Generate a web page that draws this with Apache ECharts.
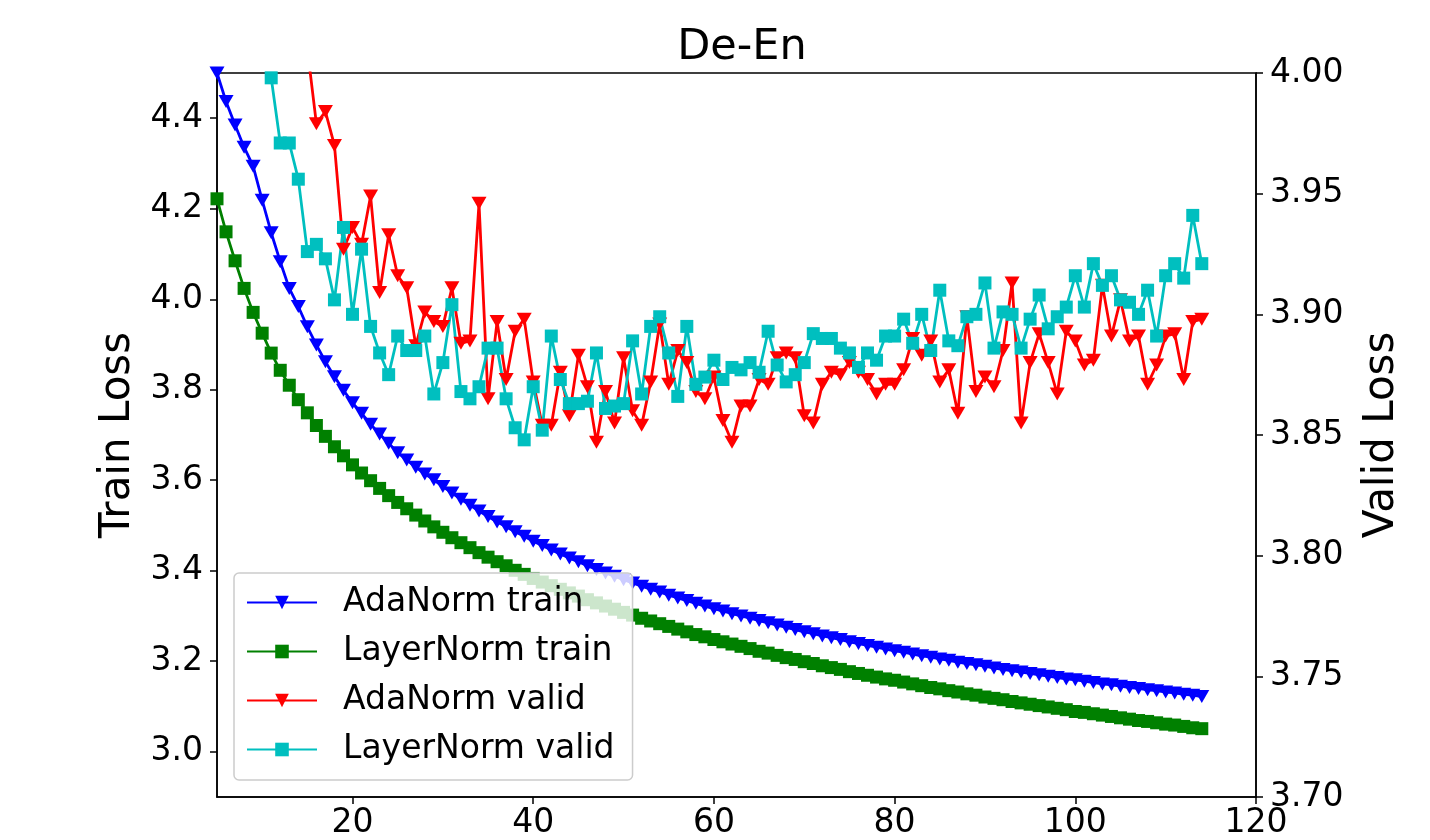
<!DOCTYPE html>
<html>
<head>
<meta charset="utf-8">
<script src="https://cdn.jsdelivr.net/npm/echarts@6/dist/echarts.min.js"></script>
<style>
  html, body { margin: 0; padding: 0; background: #fff; }
  #chart { width: 1430px; height: 840px; }
</style>
</head>
<body>
<div id="chart"></div>
<script>
// epochs where each curve starts (one point per epoch)
const trainStart = 5;
const adaValidStart = 15;
const layerValidStart = 11;

// train loss (left axis)
const adaTrain = [
  4.500, 4.437, 4.385, 4.336, 4.294, 4.219, 4.147, 4.083, 4.024, 3.984,
  3.939, 3.899, 3.862, 3.829, 3.799, 3.771, 3.748, 3.724, 3.702, 3.682,
  3.661, 3.645, 3.629, 3.614, 3.601, 3.586, 3.572, 3.558, 3.545, 3.532,
  3.520, 3.508, 3.497, 3.486, 3.476, 3.465, 3.456, 3.446, 3.437, 3.428,
  3.420, 3.411, 3.403, 3.395, 3.388, 3.380, 3.373, 3.366, 3.359, 3.353,
  3.346, 3.340, 3.334, 3.328, 3.322, 3.316, 3.311, 3.305, 3.300, 3.295,
  3.290, 3.285, 3.280, 3.275, 3.270, 3.265, 3.261, 3.256, 3.252, 3.248,
  3.243, 3.239, 3.235, 3.231, 3.227, 3.223, 3.220, 3.216, 3.212, 3.209,
  3.205, 3.202, 3.198, 3.195, 3.192, 3.189, 3.185, 3.182, 3.179, 3.176,
  3.173, 3.170, 3.167, 3.164, 3.161, 3.159, 3.156, 3.153, 3.150, 3.148,
  3.145, 3.142, 3.140, 3.137, 3.135, 3.132, 3.130, 3.127, 3.125, 3.122
];
const layerTrain = [
  4.222, 4.149, 4.085, 4.024, 3.971, 3.925, 3.881, 3.843, 3.810, 3.778,
  3.749, 3.721, 3.697, 3.674, 3.654, 3.634, 3.616, 3.599, 3.582, 3.566,
  3.551, 3.537, 3.523, 3.510, 3.497, 3.485, 3.473, 3.462, 3.451, 3.440,
  3.430, 3.420, 3.411, 3.401, 3.392, 3.383, 3.375, 3.367, 3.359, 3.351,
  3.344, 3.336, 3.329, 3.322, 3.315, 3.308, 3.302, 3.295, 3.289, 3.283,
  3.277, 3.271, 3.265, 3.259, 3.254, 3.248, 3.243, 3.238, 3.233, 3.228,
  3.222, 3.218, 3.213, 3.208, 3.204, 3.199, 3.195, 3.190, 3.186, 3.182,
  3.177, 3.173, 3.169, 3.165, 3.161, 3.158, 3.154, 3.150, 3.146, 3.142,
  3.139, 3.135, 3.132, 3.128, 3.125, 3.121, 3.118, 3.115, 3.111, 3.108,
  3.105, 3.102, 3.099, 3.096, 3.093, 3.089, 3.087, 3.084, 3.081, 3.078,
  3.075, 3.072, 3.069, 3.067, 3.064, 3.061, 3.059, 3.056, 3.053, 3.051
];

// valid loss (right axis)
const adaValid = [
  4.010, 3.979, 3.984, 3.970, 3.927, 3.936, 3.929, 3.949, 3.909, 3.933,
  3.916, 3.911, 3.887, 3.901, 3.897, 3.895, 3.911, 3.888, 3.889, 3.946,
  3.865, 3.897, 3.873, 3.893, 3.898, 3.872, 3.854, 3.854, 3.876, 3.858,
  3.883, 3.870, 3.847, 3.868, 3.855, 3.882, 3.860, 3.854, 3.872, 3.896,
  3.871, 3.885, 3.880, 3.868, 3.865, 3.874, 3.856, 3.847, 3.862, 3.862,
  3.873, 3.871, 3.882, 3.884, 3.882, 3.858, 3.855, 3.871, 3.876, 3.875,
  3.880, 3.876, 3.873, 3.867, 3.871, 3.871, 3.877, 3.890, 3.883, 3.889,
  3.872, 3.877, 3.859, 3.899, 3.868, 3.874, 3.870, 3.885, 3.913, 3.855,
  3.880, 3.892, 3.880, 3.867, 3.893, 3.889, 3.879, 3.881, 3.912, 3.891,
  3.906, 3.889, 3.891, 3.871, 3.879, 3.891, 3.892, 3.873, 3.897, 3.898
];
const layerValid = [
  3.998, 3.971, 3.971, 3.956, 3.926, 3.929, 3.923, 3.906, 3.936, 3.900,
  3.927, 3.895, 3.884, 3.875, 3.891, 3.885, 3.885, 3.891, 3.867, 3.880,
  3.904, 3.868, 3.865, 3.870, 3.886, 3.886, 3.865, 3.853, 3.848, 3.870,
  3.852, 3.891, 3.873, 3.863, 3.863, 3.864, 3.884, 3.861, 3.862, 3.863,
  3.889, 3.867, 3.895, 3.899, 3.884, 3.866, 3.895, 3.871, 3.874, 3.881,
  3.873, 3.878, 3.877, 3.880, 3.876, 3.893, 3.879, 3.872, 3.875, 3.880,
  3.892, 3.890, 3.890, 3.886, 3.884, 3.878, 3.884, 3.881, 3.891, 3.891,
  3.898, 3.888, 3.900, 3.885, 3.910, 3.889, 3.887, 3.899, 3.900, 3.913,
  3.886, 3.901, 3.900, 3.886, 3.898, 3.908, 3.894, 3.899, 3.903, 3.916,
  3.903, 3.921, 3.912, 3.916, 3.906, 3.905, 3.900, 3.910, 3.891, 3.916,
  3.921, 3.915, 3.941, 3.921
];

// tick labels
const xTicks = [20, 40, 60, 80, 100, 120];
const trainTicks = [3.0, 3.2, 3.4, 3.6, 3.8, 4.0, 4.2, 4.4];
const validTicks = [3.70, 3.75, 3.80, 3.85, 3.90, 3.95, 4.00];

const seriesNames = ["AdaNorm train", "LayerNorm train", "AdaNorm valid", "LayerNorm valid"];

const toPairs = (start, arr) => arr.map((v, i) => [start + i, v]);

const FONT = "DejaVu Sans";
const axisTxt = { color: "#000", fontFamily: FONT, fontSize: 33 };

function lineSeries(name, data, color, yIdx, tri) {
  return {
    name: name,
    type: "line",
    yAxisIndex: yIdx,
    data: data,
    clip: true,
    showAllSymbol: true,
    symbol: tri ? "triangle" : "rect",
    symbolRotate: tri ? 180 : 0,
    symbolSize: tri ? [15, 13] : [13, 13],
    itemStyle: { color: color },
    lineStyle: { color: color, width: 2.8 },
    emphasis: { disabled: true }
  };
}

const chart = echarts.init(document.getElementById("chart"), null, { renderer: "canvas" });
chart.setOption({
  animation: false,
  backgroundColor: "#fff",
  title: {
    text: "De-En",
    left: 737,
    textAlign: "center",
    top: 21,
    textStyle: { color: "#000", fontFamily: FONT, fontSize: 43, fontWeight: "normal" }
  },
  grid: {
    left: 217, right: 174, top: 73, bottom: 43,
    show: true, borderColor: "#000", borderWidth: 1.5, backgroundColor: "transparent"
  },
  legend: {
    data: seriesNames,
    orient: "vertical",
    left: 234,
    top: 573,
    itemWidth: 70,
    itemHeight: 17,
    itemGap: 12,
    padding: [11, 18, 12, 12],
    backgroundColor: "rgba(255,255,255,0.8)",
    borderColor: "#cccccc",
    borderWidth: 1.5,
    borderRadius: 5,
    textStyle: { color: "#000", fontFamily: FONT, fontSize: 33, lineHeight: 37, padding: [0, 0, 0, 21] }
  },
  xAxis: {
    type: "value",
    min: 5,
    max: 120,
    splitLine: { show: false },
    axisLine: { show: true, onZero: false, lineStyle: { color: "#000", width: 1.5 } },
    axisTick: { show: true, length: 7, lineStyle: { color: "#000", width: 1.5 }, customValues: xTicks },
    axisLabel: Object.assign({ margin: 10, customValues: xTicks }, axisTxt)
  },
  yAxis: [
    {
      type: "value",
      position: "left",
      min: 2.9,
      max: 4.5,
      name: "Train Loss",
      nameLocation: "middle",
      nameGap: 78,
      nameTextStyle: { color: "#000", fontFamily: FONT, fontSize: 42 },
      splitLine: { show: false },
      axisLine: { show: true, onZero: false, lineStyle: { color: "#000", width: 1.5 } },
      axisTick: { show: true, length: 7, lineStyle: { color: "#000", width: 1.5 }, customValues: trainTicks },
      axisLabel: Object.assign({
        margin: 14,
        customValues: trainTicks,
        formatter: v => v.toFixed(1)
      }, axisTxt)
    },
    {
      type: "value",
      position: "right",
      min: 3.7,
      max: 4.0,
      name: "Valid Loss",
      nameLocation: "middle",
      nameGap: 105,
      nameRotate: 90,
      nameTextStyle: { color: "#000", fontFamily: FONT, fontSize: 42 },
      splitLine: { show: false },
      axisLine: { show: true, onZero: false, lineStyle: { color: "#000", width: 1.5 } },
      axisTick: { show: true, length: 7, lineStyle: { color: "#000", width: 1.5 }, customValues: validTicks },
      axisLabel: Object.assign({
        margin: 14,
        customValues: validTicks,
        formatter: v => v.toFixed(2)
      }, axisTxt)
    }
  ],
  series: [
    lineSeries(seriesNames[0], toPairs(trainStart, adaTrain), "#0000ff", 0, true),
    lineSeries(seriesNames[1], toPairs(trainStart, layerTrain), "#008000", 0, false),
    lineSeries(seriesNames[2], toPairs(adaValidStart, adaValid), "#ff0000", 1, true),
    lineSeries(seriesNames[3], toPairs(layerValidStart, layerValid), "#00bfbf", 1, false)
  ]
});
</script>
</body>
</html>
